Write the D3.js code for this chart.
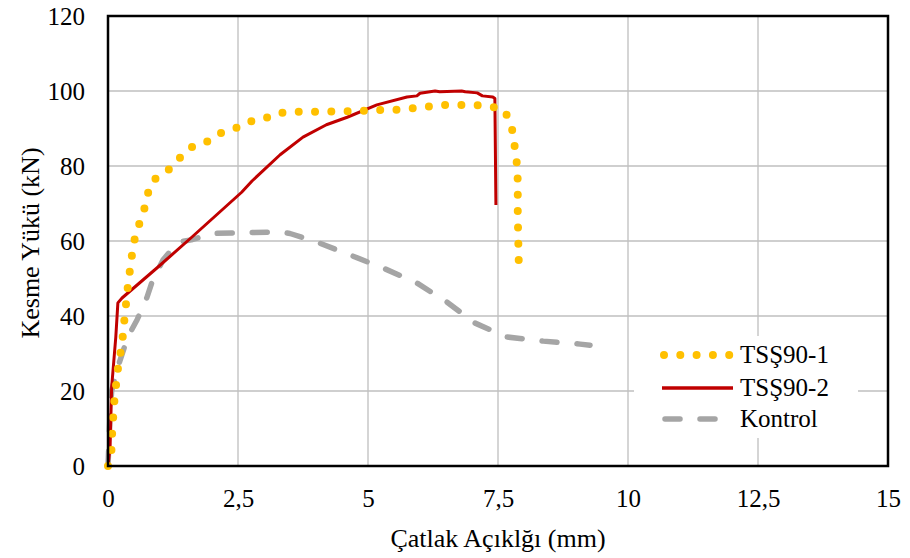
<!DOCTYPE html>
<html>
<head>
<meta charset="utf-8">
<script src="https://cdn.jsdelivr.net/npm/d3@7"></script>
<style>
  html, body { margin: 0; padding: 0; background: #fff; }
  svg text { font-family: "Liberation Serif", "Times New Roman", serif; fill: #000; }
</style>
</head>
<body>
<svg id="chart" width="910" height="558"></svg>
<script>
// ---- data ----
const xTicks = [0, 2.5, 5, 7.5, 10, 12.5, 15];
const xTickLabels = ["0", "2,5", "5", "7,5", "10", "12,5", "15"];
const yTicks = [0, 20, 40, 60, 80, 100, 120];
const yTickLabels = ["0", "20", "40", "60", "80", "100", "120"];

const seriesNames = ["TSŞ90-1", "TSŞ90-2", "Kontrol"];

const tss1X = [0, 0.07, 0.08, 0.1, 0.12, 0.15, 0.2, 0.27, 0.3, 0.33, 0.36, 0.39, 0.43, 0.47, 0.52, 0.6, 0.69, 0.75, 0.85, 1.06, 1.23, 1.37, 1.54, 1.69, 1.94, 2.11, 2.35, 2.58, 2.81, 3.08, 3.25, 3.54, 3.85, 4.2, 4.5, 4.67, 5.15, 5.6, 6.08, 6.38, 6.7, 7.0, 7.33, 7.62, 7.73, 7.8, 7.83, 7.87, 7.88, 7.88, 7.89, 7.9];
const tss1Y = [0, 4.5, 9, 13, 17, 21, 27, 32.5, 37, 41, 45, 49, 53, 57.3, 61, 64.5, 68, 72, 76, 77.9, 79.7, 82, 84.5, 85.6, 86.7, 88.5, 89.6, 90.7, 92.3, 93, 94.1, 94.4, 94.5, 94.5, 94.6, 94.6, 94.9, 95, 95.7, 96.3, 96.3, 96.3, 96, 95, 91.7, 88.2, 83.7, 80, 75.7, 67.2, 60, 53.8];

const tss2X = [0, 0.04, 0.07, 0.15, 0.19, 0.27, 0.94, 1.61, 2.57, 2.77, 3.31, 3.75, 4.2, 4.6, 5.17, 5.75, 5.94, 6.0, 6.29, 6.38, 6.8, 6.87, 7.1, 7.2, 7.4, 7.44, 7.46];
const tss2Y = [0, 5, 21, 34.4, 43.5, 44.8, 52.8, 61, 73, 76, 83, 87.7, 91, 93, 96.3, 98.4, 98.7, 99.4, 100, 99.8, 100, 99.8, 99.5, 98.7, 98.4, 98, 69.6];

const ctrlX = [0, 0.04, 0.07, 0.19, 0.38, 0.56, 0.75, 0.86, 1.06, 1.35, 1.6, 2.0, 2.5, 3.31, 3.5, 4.02, 4.65, 5.29, 5.94, 6.52, 7.06, 7.67, 8.37, 9.08, 9.27];
const ctrlY = [0, 14, 20, 26.4, 34.4, 39, 45, 49.6, 55, 59.7, 60.3, 62, 62.2, 62.4, 62, 59.7, 56.3, 52.8, 48.8, 43.7, 38.1, 34.4, 33.3, 32.5, 32.2];

// ---- layout ----
const svg = d3.select("#chart");
const L = 108, R = 888, T = 16, B = 466;
const x = d3.scaleLinear().domain([0, 15]).range([L, R]);
const y = d3.scaleLinear().domain([0, 120]).range([B, T]);

// gridlines
const grid = svg.append("g");
grid.selectAll("line.v").data(xTicks.slice(1, -1)).join("line")
  .attr("x1", d => x(d)).attr("x2", d => x(d)).attr("y1", T).attr("y2", B)
  .attr("stroke", "#bfbfbf").attr("stroke-width", 1.3);
grid.selectAll("line.h").data(yTicks.slice(1, -1)).join("line")
  .attr("y1", d => y(d)).attr("y2", d => y(d)).attr("x1", L).attr("x2", R)
  .attr("stroke", "#bfbfbf").attr("stroke-width", 1.3);

// axes (labels via d3 axes, no tick marks)
const xAxis = d3.axisBottom(x).tickValues(xTicks).tickFormat((d, i) => xTickLabels[i]).tickSize(0).tickPadding(23);
const gx = svg.append("g").attr("transform", `translate(0,${B})`).call(xAxis);
gx.select(".domain").remove();
gx.selectAll("text").attr("font-size", 25).attr("font-family", "Liberation Serif");

const yAxis = d3.axisLeft(y).tickValues(yTicks).tickFormat((d, i) => yTickLabels[i]).tickSize(0).tickPadding(23);
const gy = svg.append("g").attr("transform", `translate(${L},0)`).call(yAxis);
gy.select(".domain").remove();
gy.selectAll("text").attr("font-size", 25).attr("font-family", "Liberation Serif");

// lines
const line = d3.line().x(d => x(d[0])).y(d => y(d[1]));
const ctrl = ctrlX.map((v, i) => [v, ctrlY[i]]);
const tss2 = tss2X.map((v, i) => [v, tss2Y[i]]);
const tss1 = tss1X.map((v, i) => [v, tss1Y[i]]);

svg.append("path").datum(ctrl).attr("d", line).attr("fill", "none")
  .attr("stroke", "#a5a5a5").attr("stroke-width", 5.5).attr("stroke-linecap", "round")
  .attr("stroke-linejoin", "round").attr("stroke-dasharray", "15 20");
svg.append("path").datum(tss2).attr("d", line).attr("fill", "none")
  .attr("stroke", "#c00000").attr("stroke-width", 3).attr("stroke-linejoin", "round");
svg.append("path").datum(tss1).attr("d", line).attr("fill", "none")
  .attr("stroke", "#ffc000").attr("stroke-width", 8).attr("stroke-linecap", "round")
  .attr("stroke-dasharray", "0 16.3");

// frame
svg.append("rect").attr("x", L).attr("y", T).attr("width", R - L).attr("height", B - T)
  .attr("fill", "none").attr("stroke", "#000").attr("stroke-width", 2.5);

// legend
const lg = svg.append("g");
lg.append("rect").attr("x", 634).attr("y", 336).attr("width", 224).attr("height", 102).attr("fill", "#fff");
const legY = [355, 388, 419];
const styles = [
  {stroke: "#ffc000", w: 8, dash: "0 16.3", cap: "round", x1: 664, x2: 730},
  {stroke: "#c00000", w: 3.5, dash: null, cap: "butt", x1: 662, x2: 733},
  {stroke: "#a5a5a5", w: 5.5, dash: "15 20", cap: "round", x1: 665, x2: 717}
];
seriesNames.forEach((name, i) => {
  const s = styles[i];
  const ln = lg.append("line").attr("x1", s.x1).attr("x2", s.x2)
    .attr("y1", legY[i]).attr("y2", legY[i])
    .attr("stroke", s.stroke).attr("stroke-width", s.w).attr("stroke-linecap", s.cap);
  if (s.dash) ln.attr("stroke-dasharray", s.dash);
  lg.append("text").attr("x", 740).attr("y", legY[i]).attr("dy", "0.33em")
    .attr("font-size", 25).text(name);
});

// axis titles
svg.append("text").attr("x", (L + R) / 2).attr("y", 547).attr("text-anchor", "middle")
  .attr("font-size", 26).text("Çatlak Açıklğı (mm)");
svg.append("text").attr("transform", `translate(39,${(T + B) / 2 + 2}) rotate(-90)`)
  .attr("text-anchor", "middle").attr("font-size", 26).text("Kesme Yükü (kN)");
</script>
</body>
</html>
